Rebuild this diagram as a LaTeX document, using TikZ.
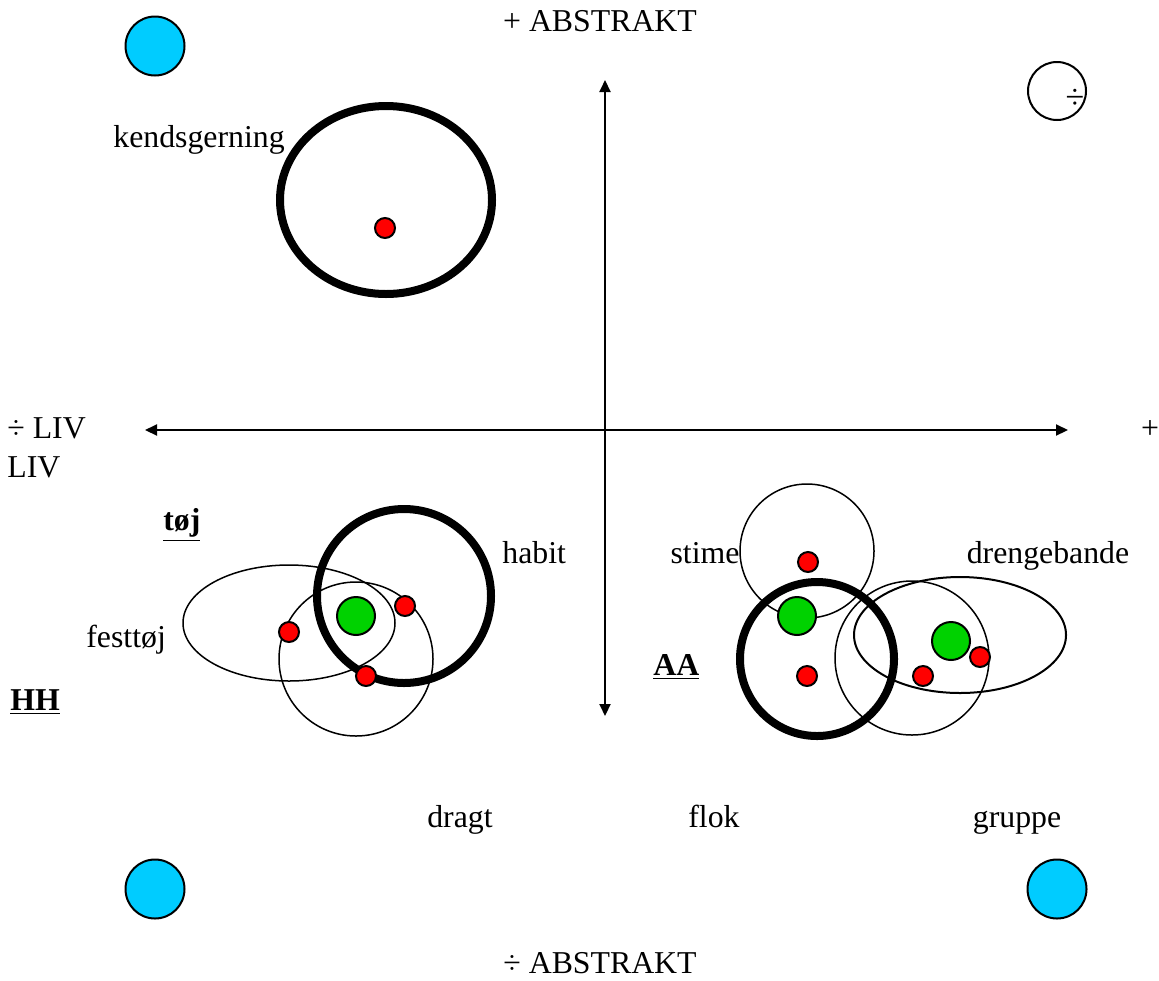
\documentclass[tikz,border=0pt]{standalone}
\usepackage{fontspec}
\setmainfont{Liberation Serif}
\usetikzlibrary{arrows.meta}
\begin{document}
\begin{tikzpicture}[x=0.5pt,y=-0.5pt,
  lbl/.style={inner sep=0pt,text height=12pt,text depth=1.5pt,font=\fontsize{15.9}{19}\selectfont},
  axis/.style={line width=1pt,{Triangle[length=6pt,width=5.5pt]}-{Triangle[length=6pt,width=5.5pt]}},
  thin/.style={line width=0.75pt},
  thick ring/.style={line width=4pt},
  corner/.style={line width=1pt,fill={rgb,255:red,0;green,204;blue,255}},
  reddot/.style={circle,draw,line width=1pt,fill=red,inner sep=0pt,minimum size=10pt},
  greendot/.style={circle,draw,line width=1pt,fill={rgb,255:red,0;green,210;blue,0},inner sep=0pt,minimum size=19pt}]
\useasboundingbox (0,0) rectangle (1159,980);

% axes
\coordinate (xl) at (145,430);
\coordinate (xr) at (1068,430);
\coordinate (yt) at (605,80);
\coordinate (yb) at (605,716);
\draw[axis] (xl) -- (xr);
\draw[axis] (yt) -- (yb);

% axis captions
\node[lbl] (abtop) at (600,21) {+ ABSTRAKT};
\node[lbl] (abbot) at (600,963) {÷ ABSTRAKT};
\node[lbl,anchor=west] (livneg) at (7,428) {÷ LIV};
\node[lbl,anchor=west] (liv) at (7,467) {LIV};
\node[lbl] (livpos) at (1150,428) {+};

% corner markers
\draw[corner] (155,46) circle (29.5);
\draw[corner] (155,889) circle (29.5);
\draw[corner] (1057,889) circle (29.5);
\draw[line width=1pt] (1057,91) circle (29);
\node[inner sep=0pt,font=\fontsize{17}{19}\selectfont] (divmark) at (1075,99) {÷};

% upper left: kendsgerning
\node[lbl,anchor=west] (kend) at (113,137) {kendsgerning};
\draw[thick ring] (386,200) ellipse (106 and 94);
\node[reddot] (k1) at (385,228) {};

% lower left: tøj
\node[lbl,anchor=west] (toj) at (163,520) {\textbf{\underline{tøj}}};
\node[lbl,anchor=west] (hh) at (10,700) {\textbf{\underline{HH}}};
\node[lbl,anchor=west] (habit) at (502,553) {habit};
\node[lbl,anchor=west] (fest) at (86,637) {festtøj};
\node[lbl] (dragt) at (460,817) {dragt};
\draw[thin] (289,623) ellipse (106 and 58);
\draw[thin] (356,659) circle (77);
\draw[thick ring] (404,596) circle (87);
\node[greendot] (g1) at (356,616) {};
\node[reddot] (r1) at (289,632) {};
\node[reddot] (r2) at (405,606) {};
\node[reddot] (r3) at (366,676) {};

% lower right: flok
\node[lbl] (stime) at (705,553) {stime};
\node[lbl] (dreng) at (1048,553) {drengebande};
\node[lbl,anchor=west] (aa) at (653,665) {\textbf{\underline{AA}}};
\node[lbl] (flok) at (714,817) {flok};
\node[lbl] (gruppe) at (1017,817) {gruppe};
\draw[thin] (807,551) circle (67);
\draw[thin] (912,658) circle (77);
\draw[line width=1pt] (960,635) ellipse (106 and 58);
\draw[thick ring] (817,659) circle (77);
\node[greendot] (g2) at (797,616) {};
\node[greendot] (g3) at (951,641) {};
\node[reddot] (r4) at (808,562) {};
\node[reddot] (r5) at (807,676) {};
\node[reddot] (r6) at (980,657) {};
\node[reddot] (r7) at (923,676) {};
\end{tikzpicture}
\end{document}
